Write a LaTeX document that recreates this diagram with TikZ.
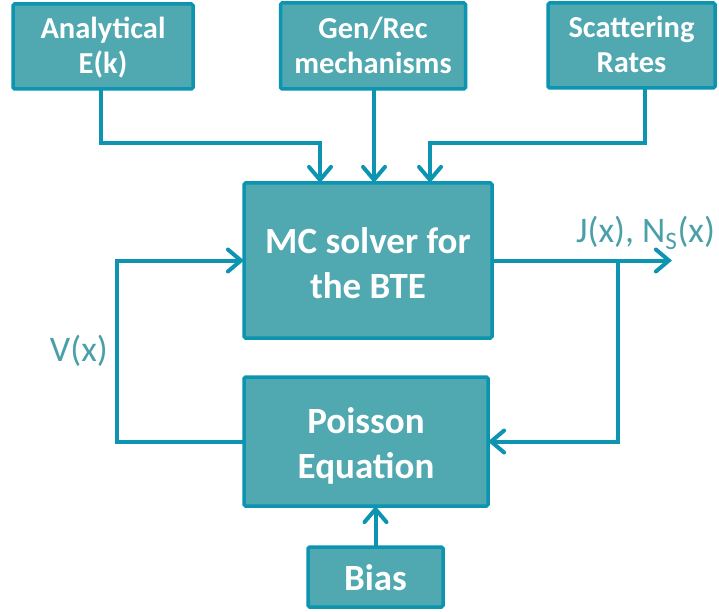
\documentclass[tikz,border=0pt]{standalone}
\usepackage{fontspec}
\setmainfont{Carlito}
\usetikzlibrary{arrows.meta,calc}
\definecolor{boxfill}{RGB}{80,168,176}
\definecolor{boxline}{RGB}{12,148,176}
\definecolor{labtext}{RGB}{74,160,168}
\tikzset{
  blk/.style={draw=boxline, fill=boxfill, line width=3.5pt, rounded corners=1.5pt,
    text=white, align=center, inner sep=0pt, outer sep=0pt,
    text height=55pt, text depth=0pt,
    font=\fontsize{30.5}{35}\selectfont\bfseries},
  bigblk/.style={blk, font=\fontsize{37}{45}\selectfont\bfseries},
  conn/.style={draw=boxline, line width=4pt},
  arr/.style={conn, -{Straight Barb[length=13pt,width=22pt,line cap=round]}},
  lab/.style={text=labtext, inner sep=0pt, font=\fontsize{36}{40}\selectfont}
}
\begin{document}
\begin{tikzpicture}[x=1pt,y=-1pt]
\useasboundingbox (0,0) rectangle (719,612);
\node[blk, minimum width=180pt, minimum height=85pt] (A) at (103,46.5) {Analytical\\E(k)};
\node[blk, minimum width=185pt, minimum height=86pt] (G) at (373,46) {Gen/Rec\\mechanisms};
\node[blk, minimum width=167pt, minimum height=85pt] (S) at (631.5,45.5) {Scattering\\Rates};
\node[bigblk, minimum width=248pt, minimum height=155pt, text height=75pt] (MC) at (368,260.5) {MC solver for\\the BTE};
\node[bigblk, minimum width=244pt, minimum height=129pt, text height=73pt] (P) at (366,441.5) {Poisson\\Equation};
\node[bigblk, minimum width=135pt, minimum height=60pt, text height=26pt] (B) at (375.5,577) {Bias};
\coordinate (turn) at (0,143);
\coordinate (out) at (672,260.5);
\coordinate (branch) at (618,260.5);
\coordinate (back) at (117,0);
% inputs to MC
\draw[arr] ($(A.south)+(-2,0)$) -- ($(A.south |- turn)+(-2,0)$) -| ($(MC.north)+(-48,0)$);
\draw[arr] ($(G.south)+(1,0)$) -- ($(G.south |- MC.north)+(1,0)$);
\draw[arr] ($(S.south)+(13,0)$) -- ($(S.south |- turn)+(13,0)$) -| ($(MC.north)+(62,0)$);
% output
\draw[arr] (MC.east) -- (out);
\draw[arr] (branch) |- (P.east);
% feedback
\draw[arr] (P.west) -| (back |- P.west) |- (MC.west);
% bias
\draw[arr] (B.north) -- (B.north |- P.south);
% labels
\node[lab, anchor=base west] (J) at (576,242) {J(x), N\textsubscript{S}(x)};
\node[lab, anchor=base east] (V) at (108,361) {V(x)};
\end{tikzpicture}
\end{document}
